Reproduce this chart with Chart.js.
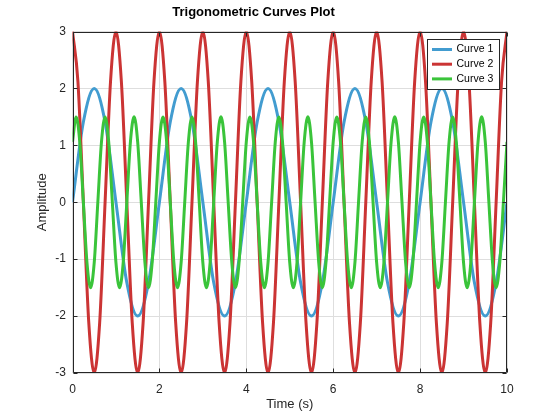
<!DOCTYPE html>
<html>
<head>
<meta charset="utf-8">
<script src="https://cdn.jsdelivr.net/npm/chart.js@4.4.1/dist/chart.umd.min.js"></script>
<style>
html,body{margin:0;padding:0;background:#fff;}
#wrap{width:560px;height:420px;}
</style>
</head>
<body>
<div id="wrap"><canvas id="c" width="560" height="420"></canvas></div>
<script>
// ---- data ----
const seriesNames = ["Curve 1", "Curve 2", "Curve 3"];

const time1 = [0,0.25,0.5,0.75,1,1.25,1.5,1.75,2,2.25,2.5,2.75,3,3.25,3.5,3.75,4,4.25,4.5,4.75,5,5.25,5.5,5.75,6,6.25,6.5,6.75,7,7.25,7.5,7.75,8,8.25,8.5,8.75,9,9.25,9.5,9.75,10];
const curve1 = [0,1.41,2,1.41,0,-1.41,-2,-1.41,
                0,1.41,2,1.41,0,-1.41,-2,-1.41,
                0,1.41,2,1.41,0,-1.41,-2,-1.41,
                0,1.41,2,1.41,0,-1.41,-2,-1.41,
                0,1.41,2,1.41,0,-1.41,-2,-1.41,
                0];

const time2 = [0,0.125,0.25,0.375,0.5,0.625,0.75,0.875,
               1,1.125,1.25,1.375,1.5,1.625,1.75,1.875,
               2,2.125,2.25,2.375,2.5,2.625,2.75,2.875,
               3,3.125,3.25,3.375,3.5,3.625,3.75,3.875,
               4,4.125,4.25,4.375,4.5,4.625,4.75,4.875,
               5,5.125,5.25,5.375,5.5,5.625,5.75,5.875,
               6,6.125,6.25,6.375,6.5,6.625,6.75,6.875,
               7,7.125,7.25,7.375,7.5,7.625,7.75,7.875,
               8,8.125,8.25,8.375,8.5,8.625,8.75,8.875,
               9,9.125,9.25,9.375,9.5,9.625,9.75,9.875,
               10];
const curve2 = [3,2.12,0,-2.12,-3,-2.12,0,2.12,
                3,2.12,0,-2.12,-3,-2.12,0,2.12,
                3,2.12,0,-2.12,-3,-2.12,0,2.12,
                3,2.12,0,-2.12,-3,-2.12,0,2.12,
                3,2.12,0,-2.12,-3,-2.12,0,2.12,
                3,2.12,0,-2.12,-3,-2.12,0,2.12,
                3,2.12,0,-2.12,-3,-2.12,0,2.12,
                3,2.12,0,-2.12,-3,-2.12,0,2.12,
                3,2.12,0,-2.12,-3,-2.12,0,2.12,
                3,2.12,0,-2.12,-3,-2.12,0,2.12,
                3];

const time3 = [0,0.083,0.167,0.25,0.333,0.417,0.5,0.583,0.667,0.75,0.833,0.917,
               1,1.083,1.167,1.25,1.333,1.417,1.5,1.583,1.667,1.75,1.833,1.917,
               2,2.083,2.167,2.25,2.333,2.417,2.5,2.583,2.667,2.75,2.833,2.917,
               3,3.083,3.167,3.25,3.333,3.417,3.5,3.583,3.667,3.75,3.833,3.917,
               4,4.083,4.167,4.25,4.333,4.417,4.5,4.583,4.667,4.75,4.833,4.917,
               5,5.083,5.167,5.25,5.333,5.417,5.5,5.583,5.667,5.75,5.833,5.917,
               6,6.083,6.167,6.25,6.333,6.417,6.5,6.583,6.667,6.75,6.833,6.917,
               7,7.083,7.167,7.25,7.333,7.417,7.5,7.583,7.667,7.75,7.833,7.917,
               8,8.083,8.167,8.25,8.333,8.417,8.5,8.583,8.667,8.75,8.833,8.917,
               9,9.083,9.167,9.25,9.333,9.417,9.5,9.583,9.667,9.75,9.833,9.917,
               10];
const curve3 = [1.06,1.5,1.06,0,-1.06,-1.5,-1.06,0,
                1.06,1.5,1.06,0,-1.06,-1.5,-1.06,0,
                1.06,1.5,1.06,0,-1.06,-1.5,-1.06,0,
                1.06,1.5,1.06,0,-1.06,-1.5,-1.06,0,
                1.06,1.5,1.06,0,-1.06,-1.5,-1.06,0,
                1.06,1.5,1.06,0,-1.06,-1.5,-1.06,0,
                1.06,1.5,1.06,0,-1.06,-1.5,-1.06,0,
                1.06,1.5,1.06,0,-1.06,-1.5,-1.06,0,
                1.06,1.5,1.06,0,-1.06,-1.5,-1.06,0,
                1.06,1.5,1.06,0,-1.06,-1.5,-1.06,0,
                1.06,1.5,1.06,0,-1.06,-1.5,-1.06,0,
                1.06,1.5,1.06,0,-1.06,-1.5,-1.06,0,
                1.06,1.5,1.06,0,-1.06,-1.5,-1.06,0,
                1.06,1.5,1.06,0,-1.06,-1.5,-1.06,0,
                1.06,1.5,1.06,0,-1.06,-1.5,-1.06,0,
                1.06];

const xTicks = [0,2,4,6,8,10];
const yTicks = [-3,-2,-1,0,1,2,3];
const titleText = "Trigonometric Curves Plot";
const xLabel = "Time (s)";
const yLabel = "Amplitude";

// ---- styling ----
const FONT = "'Liberation Sans', Arial, Helvetica, sans-serif";
const colors = ["rgb(66,156,208)", "rgb(203,52,52)", "rgb(58,196,58)"];
const axisColor = "#262626";

function pts(xs, ys){ return xs.map((x,i)=>({x:x, y:ys[i]})); }

const boxPlugin = {
  id: 'boxPlugin',
  afterDatasetsDraw(chart){
    const ctx = chart.ctx, a = chart.chartArea;
    const xs = chart.scales.x, ys = chart.scales.y;
    ctx.save();
    ctx.strokeStyle = axisColor;
    ctx.lineWidth = 1;
    const L = Math.round(a.left)+0.5, R = Math.round(a.right)-0.5, T = Math.round(a.top)+0.5, B = Math.round(a.bottom)-0.5;
    ctx.beginPath();
    ctx.rect(L, T, R-L, B-T);
    // inward tick marks
    const tl = 4;
    xTicks.forEach(v=>{
      const px = Math.round(xs.getPixelForValue(v))+0.5;
      ctx.moveTo(px, B); ctx.lineTo(px, B-tl);
      ctx.moveTo(px, T); ctx.lineTo(px, T+tl);
    });
    yTicks.forEach(v=>{
      const py = Math.round(ys.getPixelForValue(v))+0.5;
      ctx.moveTo(L, py); ctx.lineTo(L+tl, py);
      ctx.moveTo(R, py); ctx.lineTo(R-tl, py);
    });
    ctx.stroke();

    // legend box
    const lx = 427.5, ly = 39.5, lw = 72, lh = 50;
    ctx.fillStyle = '#fff';
    ctx.fillRect(lx, ly, lw, lh);
    ctx.strokeStyle = axisColor;
    ctx.strokeRect(lx, ly, lw, lh);
    ctx.font = "10.5px " + FONT;
    ctx.textBaseline = 'middle';
    ctx.textAlign = 'left';
    chart.data.datasets.forEach((ds, i)=>{
      const yy = ly + 10 + i*14.7;
      ctx.strokeStyle = ds.borderColor;
      ctx.lineWidth = 3;
      ctx.beginPath();
      ctx.moveTo(lx+4.5, yy); ctx.lineTo(lx+24.5, yy);
      ctx.stroke();
      ctx.fillStyle = '#000';
      ctx.fillText(ds.label, lx+29, yy);
    });
    ctx.restore();
  }
};

const cfg = {
  type: 'line',
  data: {
    datasets: [
      {label: seriesNames[0], data: pts(time1, curve1), borderColor: colors[0], backgroundColor: colors[0], order: 3},
      {label: seriesNames[1], data: pts(time2, curve2), borderColor: colors[1], backgroundColor: colors[1], order: 2},
      {label: seriesNames[2], data: pts(time3, curve3), borderColor: colors[2], backgroundColor: colors[2], order: 1}
    ]
  },
  options: {
    responsive: false,
    devicePixelRatio: 1,
    animation: false,
    parsing: false,
    elements: {
      line: {borderWidth: 3, cubicInterpolationMode: 'monotone', fill: false},
      point: {radius: 0, hoverRadius: 0}
    },
    layout: {padding: {left: 0, right: 53, top: 0, bottom: 0}},
    plugins: {
      legend: {display: false},
      tooltip: {enabled: false},
      title: {
        display: true, text: titleText, color: '#000',
        font: {family: FONT, size: 13, weight: 'bold'},
        padding: {top: 5, bottom: 10.9}
      }
    },
    scales: {
      x: {
        type: 'linear', min: 0, max: 10,
        afterBuildTicks: s => { s.ticks = xTicks.map(v=>({value:v})); },
        afterFit: s => { s.height = 47; },
        ticks: {color: axisColor, font: {family: FONT, size: 12}, padding: 9, maxRotation: 0, autoSkip: false},
        grid: {color: '#dedede', drawTicks: false},
        border: {display: false},
        title: {display: true, text: xLabel, color: axisColor, font: {family: FONT, size: 13}, padding: {top: 0, bottom: 8.2}}
      },
      y: {
        type: 'linear', min: -3, max: 3,
        afterBuildTicks: s => { s.ticks = yTicks.map(v=>({value:v})); },
        afterFit: s => { s.width = 72.5; },
        ticks: {color: axisColor, font: {family: FONT, size: 12}, padding: 6.5, autoSkip: false},
        grid: {color: '#dedede', drawTicks: false},
        border: {display: false},
        title: {display: true, text: yLabel, color: axisColor, font: {family: FONT, size: 13}, padding: {top: 35, bottom: 0}}
      }
    }
  },
  plugins: [boxPlugin]
};

new Chart(document.getElementById('c'), cfg);
</script>
</body>
</html>
